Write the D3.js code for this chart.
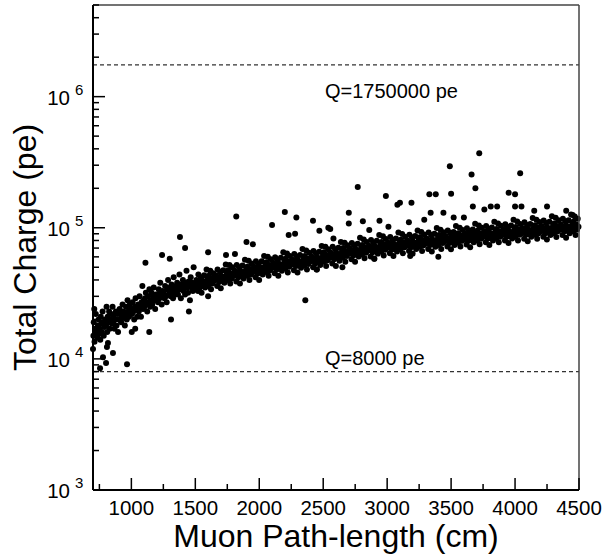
<!DOCTYPE html>
<html>
<head>
<meta charset="utf-8">
<script src="https://cdn.jsdelivr.net/npm/d3@7"></script>
<style>
  body { margin: 0; background: #fff; }
  text { font-family: "Liberation Sans", Arial, sans-serif; fill: #000; }
</style>
</head>
<body>
<div id="chart"></div>
<script>
// [path-length (cm), total charge (k pe)]
var bandShort = [
  [703,15],[706,19],[712,13.5],[716,15.2],[718,17],[722,22],[727,16],[733,14.5],[738,18],[744,20],[748,15.5],[710,24],
  [752,17],[757,14],[761,21],[766,18.5],[770,16],[775,23],[779,19],[784,15],[789,17.5],[795,20],
  [802,18],[806,25],[811,16],[815,21],[820,19],[826,23],[831,17],[837,20],[842,22],[848,18.5],
  [853,25],[857,19],[862,21.5],[868,17],[873,20],[879,23],[884,18],[890,22],[896,16],
  [903,20],[908,24],[914,22],[920,19],[926,21],[931,26],[938,23],[944,20.5],[949,18],
  [953,22],[958,25],[964,20],[970,28],[976,23],[982,21],[988,26],[995,24],
  [1003,16],[1005,22],[1010,27],[1016,23],[1022,20],[1028,25],[1033,29],[1040,24],[1046,21],
  [1053,26],[1058,23],[1064,30],[1069,25],[1075,21],[1080,27],[1086,36],[1091,24],[1097,28],
  [1102,25],[1107,29],[1113,32],[1118,26],[1124,23],[1130,30],[1135,27],[1141,34],[1147,25],
  [1152,28],[1158,32],[1163,26],[1169,30],[1175,35],[1180,28],[1186,24],[1192,31],[1197,29],
  [1203,31],[1208,27],[1214,34],[1220,29],[1226,38],[1231,31],[1237,26],[1243,33],[1248,30],
  [1253,32],[1258,29],[1264,36],[1270,30],[1276,27],[1281,34],[1287,40],[1293,31],[1298,33],
  [1303,35],[1308,30],[1314,37],[1320,32],[1326,29],[1331,42],[1337,34],[1343,31],[1348,36],
  [1353,33],[1358,38],[1364,31],[1370,36],[1376,44],[1381,34],[1387,29],[1393,37],[1398,35],
  [1403,40],[1408,33],[1414,36],[1420,31],[1426,38],[1431,47],[1437,35],[1443,32],[1448,39],
  [1453,36],[1458,28],[1464,42],[1470,35],[1476,38],[1481,33],[1487,50],[1493,37],[1498,34]
];

var bandLong = [
  [1502,36],[1509,40],[1513,38],[1521,33],[1524,44],[1533,38],[1536,35],[1544,42],[1549,32],
  [1551,40],[1557,36],[1566,38.5],[1569,43.5],[1577,35],[1580,39],[1588,48],[1592,37],[1598,41],
  [1604,36],[1606,43],[1612,39],[1617,47],[1623,34],[1629,41],[1635,37.5],[1640,45],[1646,39.5],
  [1652,40],[1659,43.5],[1663,41.5],[1671,36],[1674,48],[1683,42],[1686,38.5],[1694,46],[1699,34.5],
  [1701,43],[1707,39.5],[1716,42],[1719,47.5],[1727,38],[1730,42.5],[1738,52.5],[1742,41],[1748,45],
  [1754,40],[1756,47.5],[1762,42.5],[1767,52],[1773,37.5],[1779,45],[1785,41],[1790,50],[1796,43.5],
  [1802,43],[1809,47],[1813,45],[1821,39],[1824,52],[1833,45.5],[1836,42],[1844,50],[1849,37.5],
  [1851,47],[1857,43],[1866,45.5],[1869,51.5],[1877,41],[1880,46],[1888,57],[1892,44],[1898,48.5],
  [1904,43],[1906,50.5],[1912,45.5],[1917,56],[1923,40],[1929,48.5],[1935,44],[1940,53.5],[1946,46.5],
  [1952,46],[1959,50.5],[1963,48],[1971,42],[1974,55.5],[1983,48.5],[1986,44.5],[1994,53],[1999,40],
  [2001,50.5],[2007,46],[2016,49],[2019,55.5],[2027,44],[2030,49.5],[2038,61],[2042,47.5],[2048,52.5],
  [2054,46],[2056,54.5],[2062,49],[2067,60],[2073,43],[2079,52],[2085,47.5],[2090,57.5],[2096,50],
  [2102,49.5],[2109,54],[2113,51.5],[2121,45],[2124,59.5],[2133,52],[2136,48],[2144,57],[2149,43],
  [2151,53.5],[2157,49],[2166,52],[2169,59],[2177,47],[2180,52.5],[2188,65],[2192,50.5],[2198,55.5],
  [2204,49],[2206,58],[2212,52],[2217,63.5],[2223,45.5],[2229,55],[2235,50.5],[2240,61],[2246,53],
  [2252,52.5],[2259,57],[2263,54.5],[2271,47.5],[2274,63],[2283,55],[2286,51],[2294,60.5],[2299,45.5],
  [2301,56.5],[2307,51.5],[2316,55],[2319,62],[2327,49.5],[2330,55.5],[2338,69],[2342,53.5],[2348,59],
  [2354,51.5],[2356,61],[2362,55],[2367,67],[2373,48],[2379,58],[2385,53],[2390,64.5],[2396,56],
  [2402,55.5],[2409,60.5],[2413,57.5],[2421,50],[2424,66.5],[2433,58],[2436,53.5],[2444,64],[2449,48],
  [2451,60],[2457,54.5],[2466,58],[2469,65.5],[2477,52],[2480,58.5],[2488,72.5],[2492,56],[2498,62],
  [2504,55],[2506,65],[2512,58],[2517,71.5],[2523,51],[2529,62],[2535,56.5],[2540,68.5],[2546,59.5],
  [2552,59],[2559,64.5],[2563,61.5],[2571,53.5],[2574,71.5],[2583,62],[2586,57.5],[2594,68.5],[2599,51],
  [2601,64.5],[2607,59],[2616,62.5],[2619,70.5],[2627,56],[2630,63],[2638,78],[2642,60.5],[2648,67],
  [2654,59],[2656,70],[2662,63],[2667,77],[2673,55],[2679,66.5],[2685,61],[2690,73.5],[2696,64],
  [2702,63.5],[2709,69.5],[2713,66],[2721,57.5],[2724,76.5],[2733,67],[2736,61.5],[2744,73.5],[2749,55],
  [2751,69],[2757,63],[2766,67],[2769,75.5],[2777,60.5],[2780,67.5],[2788,84],[2792,65],[2798,71.5],
  [2804,62.5],[2806,74],[2812,66.5],[2817,81.5],[2823,58.5],[2829,70.5],[2835,64.5],[2840,78],[2846,68],
  [2852,67],[2859,73],[2863,69.5],[2871,60.5],[2874,80.5],[2883,70.5],[2886,65],[2894,77],[2899,58],
  [2901,72.5],[2907,66.5],[2916,70.5],[2919,79.5],[2927,63.5],[2930,71],[2938,88],[2942,68.5],[2948,75.5],
  [2954,66],[2956,78],[2962,70],[2967,86],[2973,61.5],[2979,74.5],[2985,68],[2990,82],[2996,71.5],
  [3002,70.5],[3009,77],[3013,73],[3021,64],[3024,85],[3033,74],[3036,68],[3044,81],[3049,61],
  [3051,75.5],[3057,69],[3066,73.5],[3069,83],[3077,66],[3080,74],[3088,92],[3092,71.5],[3098,78.5],
  [3104,68.5],[3106,81],[3112,73],[3117,89.5],[3123,64],[3129,77.5],[3135,71],[3140,85.5],[3146,74.5],
  [3152,73],[3159,80],[3163,76],[3171,66.5],[3174,88.5],[3183,77],[3186,71],[3194,84.5],[3199,63.5],
  [3201,79],[3207,72],[3216,76.5],[3219,86.5],[3227,69],[3230,77],[3238,95.5],[3242,74],[3248,82],
  [3254,71.5],[3256,84.5],[3262,76],[3267,93],[3273,66.5],[3279,80.5],[3285,73.5],[3290,89],[3296,77.5],
  [3302,76],[3309,83],[3313,79],[3321,69],[3324,92],[3333,80],[3336,74],[3344,88],[3349,66],
  [3351,82],[3357,75],[3366,79.5],[3369,90],[3377,71.5],[3380,80],[3388,99.5],[3392,77],[3398,85],
  [3404,74],[3406,88],[3412,79],[3417,96.5],[3423,69],[3429,84],[3435,76.5],[3440,92.5],[3446,80.5],
  [3452,79],[3459,86.5],[3463,82.5],[3471,72],[3474,95.5],[3483,83],[3486,76.5],[3494,91.5],[3499,68.5],
  [3501,85],[3507,77.5],[3516,82.5],[3519,93],[3527,74],[3530,83.5],[3538,103],[3542,80],[3548,88.5],[3511,86],[3534,79],
  [3554,77],[3556,91],[3562,82],[3567,100],[3573,72],[3579,87],[3585,79.5],[3590,96],[3596,83.5],[3559,88],[3581,80],
  [3602,82],[3609,89.5],[3613,85.5],[3621,74.5],[3624,99],[3633,86],[3636,79.5],[3644,94.5],[3649,71],[3611,90],[3628,81],
  [3651,88.5],[3657,81],[3666,86],[3669,97],[3677,77.5],[3680,87],[3688,107.5],[3692,83.5],[3698,92],[3663,84],[3684,90],
  [3704,80],[3706,95],[3712,85],[3717,104],[3723,75],[3729,90.5],[3735,82.5],[3740,100],[3746,87],[3709,91],[3731,84],
  [3752,85.5],[3759,93.5],[3763,89],[3771,77.5],[3774,103],[3783,90],[3786,82.5],[3794,98.5],[3799,74],[3761,92],[3778,86],
  [3801,91.5],[3807,83.5],[3816,89],[3819,100.5],[3827,80],[3830,90],[3838,111],[3842,86.5],[3848,95],[3813,87],
  [3854,83],[3856,98],[3862,88],[3867,108],[3873,77.5],[3879,93.5],[3885,85.5],[3890,103.5],[3896,90],[3861,95],
  [3902,88],[3909,96.5],[3913,92],[3921,80],[3924,106.5],[3933,93],[3936,85.5],[3944,102],[3949,76.5],
  [3951,95],[3957,86.5],[3966,92],[3969,104],[3977,83],[3980,93],[3988,115],[3992,89],[3998,98.5],
  [4004,85.5],[4006,101.5],[4012,91],[4017,111.5],[4023,80],[4029,96.5],[4035,88.5],[4040,107],[4046,93],
  [4052,91],[4059,99.5],[4063,95],[4071,82.5],[4074,110],[4083,96],[4086,88.5],[4094,105],[4099,79],
  [4101,98],[4107,89.5],[4116,95],[4119,107],[4127,85.5],[4130,96],[4138,118.5],[4142,92],[4148,101.5],
  [4154,88.5],[4156,104.5],[4162,94],[4167,115],[4173,82.5],[4179,100],[4185,91],[4190,110.5],[4196,96],
  [4202,94],[4209,103],[4213,98],[4221,85.5],[4224,113.5],[4233,99],[4236,91],[4244,108.5],[4249,81.5],
  [4251,101],[4257,92],[4266,98],[4269,111],[4277,88],[4280,99],[4288,122.5],[4292,95],[4298,105],
  [4304,91],[4306,108],[4312,97],[4317,119],[4323,85],[4329,103],[4335,94],[4340,114],[4346,99],
  [4352,97],[4359,106],[4363,101],[4371,88],[4374,117],[4383,102],[4386,94],[4394,112],[4399,84],
  [4401,104],[4407,95],[4416,101],[4419,114],[4427,91],[4430,102],[4438,126],[4442,98],[4448,108],
  [4454,94],[4456,111],[4462,100],[4467,122],[4473,88],[4479,106],[4485,97],[4490,117],[4496,102]
];

var highPoints = [
  [1380,85],[1420,70],[1110,54],[1240,62],[1300,58],[1600,65],[1740,62],[1820,122],[1810,63],
  [1900,78],[1950,75],[2100,105],[2200,132],[2290,120],[2230,88],[2280,90],[2420,113],[2470,95],
  [2540,100],[2555,98],[2580,83],[2700,130],[2700,108],[2770,205],[2810,112],[2860,96],[2940,113],
  [2990,175],[3010,102],[3080,150],[3100,155],[3190,155],[3170,110],[3340,130],[3330,180],[3380,180],
  [3290,115],[3440,130],[3490,295],[3500,182],[3520,120],[3600,120],[3660,255],[3690,200],[3670,145],
  [3720,370],[3760,138],[3810,145],[3860,145],[3950,185],[4000,180],[4000,145],[4040,260],[4050,145],
  [4150,135],[4250,145],[4400,135],[4450,125]
];

var lowPoints = [
  [700,11.9],[817,13.2],[809,12.3],[778,10.3],[856,11.1],[802,9.3],[755,8.5],[966,9.1],
  [2360,28],[1140,16],[1310,20],[1450,23],[1030,17],[1600,30],[3400,60],[3180,61],
  [2650,50],[2450,48],[2900,58]
];

var thresholds = [8000, 1750000];
var thresholdLabels = ["Q=8000 pe", "Q=1750000 pe"];
var xMajorTicks = [1000, 1500, 2000, 2500, 3000, 3500, 4000, 4500];
var xMinorTicks = [750, 1250, 1750, 2250, 2750, 3250, 3750, 4250];
var yDecades = [3, 4, 5, 6];

var margin = {top: 5, right: 27, bottom: 64, left: 93},
    width = 606 - margin.left - margin.right,
    height = 554 - margin.top - margin.bottom;

var svg = d3.select("#chart").append("svg")
    .attr("width", 606)
    .attr("height", 554)
  .append("g")
    .attr("transform", "translate(" + margin.left + "," + margin.top + ")");

var xScale = d3.scaleLinear().domain([700, 4500]).range([0, width]);
var yScale = d3.scaleLog().domain([1e3, 5e6]).range([height, 0]);

// y minor ticks 2..9 per decade
var yMinor = [];
yDecades.forEach(function(e) {
  for (var m = 2; m <= 9; m++) {
    var v = m * Math.pow(10, e);
    if (v <= 5e6) yMinor.push(v);
  }
});

// threshold lines
svg.selectAll(".thr")
  .data(thresholds)
  .enter().append("line")
    .attr("class", "thr")
    .attr("x1", 0).attr("x2", width)
    .attr("y1", function(d) { return yScale(d); })
    .attr("y2", function(d) { return yScale(d); })
    .attr("stroke", "#333")
    .attr("stroke-width", 1.2)
    .attr("stroke-dasharray", "4,3");

svg.selectAll(".thrLabel")
  .data(thresholds)
  .enter().append("text")
    .attr("class", "thrLabel")
    .attr("x", 232)
    .attr("y", function(d, i) { return yScale(d) + (i === 0 ? -7 : 33); })
    .style("font-size", "20px")
    .text(function(d, i) { return thresholdLabels[i]; });

// points
var allPoints = bandShort.concat(bandLong, highPoints, lowPoints);
svg.selectAll(".dot")
  .data(allPoints)
  .enter().append("circle")
    .attr("class", "dot")
    .attr("cx", function(d) { return xScale(d[0]); })
    .attr("cy", function(d) { return yScale(d[1] * 1000); })
    .attr("r", 3)
    .attr("fill", "#000");

// frame: top/right grey, left/bottom black
svg.append("line").attr("x1", 0).attr("x2", width).attr("y1", 0).attr("y2", 0)
    .attr("stroke", "#444").attr("stroke-width", 1.5);
svg.append("line").attr("x1", width).attr("x2", width).attr("y1", 0).attr("y2", height)
    .attr("stroke", "#444").attr("stroke-width", 1.5);

// x ticks (inward)
svg.selectAll(".xmaj")
  .data(xMajorTicks)
  .enter().append("line")
    .attr("x1", function(d) { return xScale(d); })
    .attr("x2", function(d) { return xScale(d); })
    .attr("y1", height).attr("y2", height - 12)
    .attr("stroke", "#000").attr("stroke-width", 1.5);
svg.selectAll(".xmin")
  .data(xMinorTicks)
  .enter().append("line")
    .attr("x1", function(d) { return xScale(d); })
    .attr("x2", function(d) { return xScale(d); })
    .attr("y1", height).attr("y2", height - 6)
    .attr("stroke", "#000").attr("stroke-width", 1.5);
svg.selectAll(".xlab")
  .data(xMajorTicks)
  .enter().append("text")
    .attr("x", function(d) { return xScale(d); })
    .attr("y", height + 25)
    .attr("text-anchor", "middle")
    .style("font-size", "20.5px")
    .text(function(d) { return d; });

// y ticks (inward)
svg.selectAll(".ymaj")
  .data(yDecades)
  .enter().append("line")
    .attr("x1", 0).attr("x2", 12)
    .attr("y1", function(d) { return yScale(Math.pow(10, d)); })
    .attr("y2", function(d) { return yScale(Math.pow(10, d)); })
    .attr("stroke", "#000").attr("stroke-width", 1.5);
svg.selectAll(".ymin")
  .data(yMinor)
  .enter().append("line")
    .attr("x1", 0).attr("x2", 6)
    .attr("y1", function(d) { return yScale(d); })
    .attr("y2", function(d) { return yScale(d); })
    .attr("stroke", "#000").attr("stroke-width", 1.5);

var ylab = svg.selectAll(".ylab")
  .data(yDecades)
  .enter().append("g")
    .attr("transform", function(d) { return "translate(0," + yScale(Math.pow(10, d)) + ")"; });
ylab.append("text")
    .attr("x", -23).attr("y", 8)
    .attr("text-anchor", "end")
    .style("font-size", "20.5px")
    .text("10");
ylab.append("text")
    .attr("x", -18).attr("y", -2)
    .style("font-size", "15px")
    .text(function(d) { return d; });

// axis lines
svg.append("line").attr("x1", 0).attr("x2", 0).attr("y1", 0).attr("y2", height)
    .attr("stroke", "#000").attr("stroke-width", 2);
svg.append("line").attr("x1", 0).attr("x2", width).attr("y1", height).attr("y2", height)
    .attr("stroke", "#000").attr("stroke-width", 2);

// axis titles
svg.append("text")
    .attr("x", width / 2)
    .attr("y", height + 57)
    .attr("text-anchor", "middle")
    .style("font-size", "32px")
    .text("Muon Path-length (cm)");

svg.append("text")
    .attr("transform", "translate(" + (-57) + "," + (height / 2) + ") rotate(-90)")
    .attr("text-anchor", "middle")
    .style("font-size", "32px")
    .text("Total Charge (pe)");
</script>
</body>
</html>
